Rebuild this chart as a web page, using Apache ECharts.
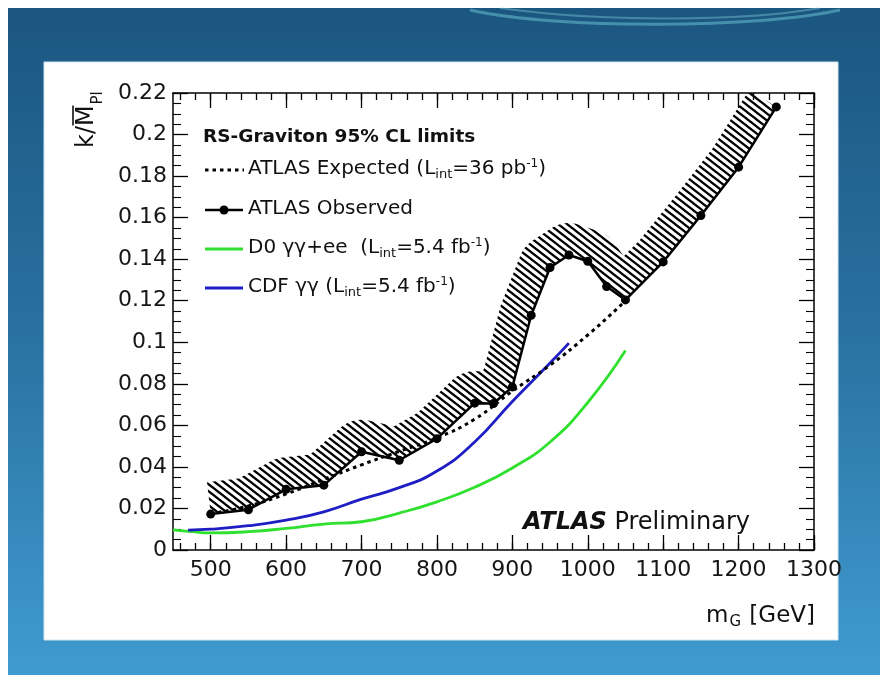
<!DOCTYPE html>
<html>
<head>
<meta charset="utf-8">
<script src="https://cdn.jsdelivr.net/npm/echarts@6/dist/echarts.min.js"></script>
<style>
html,body{margin:0;padding:0;background:#ffffff;}
#chart{width:888px;height:675px;}
</style>
</head>
<body>
<div id="chart"></div>
<script>
// ---------------- data ----------------
const massObs = [500, 550, 600, 650, 700, 750, 800, 850, 875, 900, 925, 950, 975, 1000, 1025, 1050, 1100, 1150, 1200, 1250];
const obsLimit = [0.0173, 0.0194, 0.0292, 0.0312, 0.0473, 0.0432, 0.0536, 0.0707, 0.0705, 0.0785, 0.1130, 0.1360, 0.1420, 0.1390, 0.1268, 0.1204, 0.1387, 0.1610, 0.1843, 0.2133];

const massExp = [500, 550, 600, 650, 700, 750, 800, 850, 900, 950, 1000, 1050];
const expLimit = [0.0175, 0.0212, 0.0270, 0.0340, 0.0410, 0.0475, 0.0540, 0.0630, 0.0765, 0.0890, 0.1035, 0.1200];

const massD0 = [450, 475, 500, 550, 600, 650, 700, 750, 800, 850, 900, 950, 1000, 1050];
const d0Limit = [0.0097, 0.0088, 0.0082, 0.0088, 0.0104, 0.0125, 0.0136, 0.0178, 0.0232, 0.0302, 0.0395, 0.0520, 0.0710, 0.0960];

const massCDF = [470, 500, 550, 600, 650, 700, 750, 800, 850, 900, 950, 975];
const cdfLimit = [0.0096, 0.0100, 0.0117, 0.0144, 0.0184, 0.0245, 0.0300, 0.0380, 0.0520, 0.0715, 0.0900, 0.0996];

const xMajorTicks = [500, 600, 700, 800, 900, 1000, 1100, 1200, 1300];
const xMinorTicks = [];
for (let v = 460; v <= 1300; v += 20) xMinorTicks.push(v);
const yRange = [0, 0.22];
const xRange = [450, 1300];

// ---------------- helpers ----------------
const FONT = 'DejaVu Sans';
const GREEN = '#2fe02f';
const BLUE = '#1e1ec4';

function pairs(xs, ys) { return xs.map((x, i) => [x, ys[i]]); }

// hatch pattern tile
const hatch = (function () {
  const w = 9, h = 7;
  const c = document.createElement('canvas');
  c.width = w; c.height = h;
  const ctx = c.getContext('2d');
  ctx.strokeStyle = '#000';
  ctx.lineWidth = 2.2;
  for (let k = -1; k <= 1; k++) {
    ctx.beginPath();
    ctx.moveTo(w * k - w, -h);
    ctx.lineTo(w * k + 2 * w, 2 * h);
    ctx.stroke();
  }
  return c;
})();

function offsetBand(pts, W) {
  const n = pts.length;
  const segN = [];
  for (let i = 0; i < n - 1; i++) {
    const dx = pts[i + 1][0] - pts[i][0], dy = pts[i + 1][1] - pts[i][1];
    const L = Math.hypot(dx, dy) || 1;
    segN.push([dy / L, -dx / L]);
  }
  const out = [];
  out.push([pts[0][0] + W * segN[0][0], pts[0][1] + W * segN[0][1]]);
  for (let i = 1; i < n - 1; i++) {
    const n1 = segN[i - 1], n2 = segN[i];
    const d1 = [pts[i][0] - pts[i - 1][0], pts[i][1] - pts[i - 1][1]];
    const d2 = [pts[i + 1][0] - pts[i][0], pts[i + 1][1] - pts[i][1]];
    const cross = d1[0] * d2[1] - d1[1] * d2[0];
    if (cross > 0) {
      const a1 = Math.atan2(n1[1], n1[0]);
      let da = Math.atan2(n2[1], n2[0]) - a1;
      while (da > Math.PI) da -= 2 * Math.PI;
      while (da < -Math.PI) da += 2 * Math.PI;
      const steps = Math.max(2, Math.ceil(Math.abs(da) / 0.12));
      for (let s = 0; s <= steps; s++) {
        const a = a1 + da * s / steps;
        out.push([pts[i][0] + W * Math.cos(a), pts[i][1] + W * Math.sin(a)]);
      }
    } else {
      const sx = n1[0] + n2[0], sy = n1[1] + n2[1];
      const sl = Math.hypot(sx, sy) || 1;
      let mag = 2 / sl;
      if (mag > 1.8) mag = 1.8;
      out.push([pts[i][0] + W * mag * sx / sl, pts[i][1] + W * mag * sy / sl]);
    }
  }
  out.push([pts[n - 1][0] + W * segN[n - 2][0], pts[n - 1][1] + W * segN[n - 2][1]]);
  return pts.concat(out.reverse());
}

function baseXAxis(pos, ticks, len, showLine, showLabel) {
  return {
    type: 'value', position: pos, min: xRange[0], max: xRange[1],
    splitLine: { show: false },
    axisLine: { show: showLine, onZero: false, lineStyle: { color: '#000', width: 1.5 } },
    axisTick: { show: true, inside: true, length: len, customValues: ticks, lineStyle: { color: '#000', width: 1.3 } },
    axisLabel: showLabel
      ? { show: true, customValues: xMajorTicks, formatter: function (v) { return String(v); },
          fontFamily: FONT, fontSize: 22, color: '#161616', margin: 9 }
      : { show: false }
  };
}
function baseYAxis(pos, showLabel) {
  return {
    type: 'value', position: pos, min: yRange[0], max: yRange[1], interval: 0.02,
    splitLine: { show: false },
    axisLine: { show: true, onZero: false, lineStyle: { color: '#000', width: 1.5 } },
    axisTick: { show: true, inside: true, length: 15, lineStyle: { color: '#000', width: 1.3 } },
    minorTick: { show: true, splitNumber: 4, length: 8, lineStyle: { color: '#000', width: 1.1 } },
    axisLabel: showLabel
      ? { show: true, fontFamily: FONT, fontSize: 22, color: '#161616', margin: 6 }
      : { show: false }
  };
}

const richSub = { fontFamily: FONT, fontSize: 13, padding: [11, 0, 0, 0], fill: '#111' };
const richSup = { fontFamily: FONT, fontSize: 12, padding: [0, 0, 11, 0], fill: '#111' };
const richN = { fontFamily: FONT, fontSize: 20, fill: '#111' };

function legendText(y, str) {
  return {
    type: 'text', x: 248, y: y, z: 100,
    style: {
      text: str, fontFamily: FONT, fontSize: 20, fill: '#111',
      verticalAlign: 'middle', align: 'left',
      rich: { n: richN, s: richSub, p: richSup }
    }
  };
}

const chart = echarts.init(document.getElementById('chart'), null, { renderer: 'canvas' });

const option = {
  animation: false,
  backgroundColor: '#ffffff',
  grid: { left: 173, right: 74, top: 93, bottom: 125, containLabel: false, outerBoundsMode: 'none' },
  xAxis: [
    baseXAxis('bottom', xMajorTicks, 15, true, true),
    baseXAxis('bottom', xMinorTicks, 7, false, false),
    baseXAxis('top', xMajorTicks, 15, true, false),
    baseXAxis('top', xMinorTicks, 7, false, false)
  ],
  yAxis: [baseYAxis('left', true), baseYAxis('right', false)],
  series: [
    {
      type: 'custom', name: 'band', xAxisIndex: 0, yAxisIndex: 0, z: 1, silent: true,
      data: [[massObs[0], obsLimit[0]]],
      renderItem: function (params, api) {
        const pts = massObs.map((m, i) => api.coord([m, obsLimit[i]]));
        const poly = offsetBand(pts, 32);
        const cs = params.coordSys;
        return {
          type: 'polygon',
          shape: { points: poly },
          style: { fill: { image: hatch, repeat: 'repeat' }, stroke: null },
          clipPath: { type: 'rect', shape: { x: cs.x, y: cs.y, width: cs.width, height: cs.height } }
        };
      }
    },
    {
      type: 'line', name: 'D0', xAxisIndex: 0, yAxisIndex: 0, z: 3,
      data: pairs(massD0, d0Limit), showSymbol: false, smooth: 0.5,
      lineStyle: { color: GREEN, width: 2.8 }
    },
    {
      type: 'line', name: 'CDF', xAxisIndex: 0, yAxisIndex: 0, z: 3,
      data: pairs(massCDF, cdfLimit), showSymbol: false, smooth: 0.5,
      lineStyle: { color: BLUE, width: 2.8 }
    },
    {
      type: 'line', name: 'Expected', xAxisIndex: 0, yAxisIndex: 0, z: 4,
      data: pairs(massExp, expLimit), showSymbol: false, smooth: 0.5,
      lineStyle: { color: '#000', width: 3, type: [3.5, 4] }
    },
    {
      type: 'line', name: 'Observed', xAxisIndex: 0, yAxisIndex: 0, z: 5,
      data: pairs(massObs, obsLimit), symbol: 'circle', symbolSize: 9, showSymbol: true,
      itemStyle: { color: '#000' },
      lineStyle: { color: '#000', width: 2.5 }
    }
  ],
  graphic: { elements: [
    // slide background
    { type: 'rect', z: -100, shape: { x: 8, y: 8, width: 872, height: 667 },
      style: { fill: new echarts.graphic.LinearGradient(0, 0, 0, 1, [
        { offset: 0, color: '#1b5680' }, { offset: 0.5, color: '#2a72a2' }, { offset: 1, color: '#409bd0' }]) } },
    { type: 'bezierCurve', z: -99, shape: { x1: 470, y1: 10, cpx1: 560, cpy1: 30, cpx2: 760, cpy2: 28, x2: 840, y2: 10 },
      style: { stroke: 'rgba(120,215,225,0.45)', lineWidth: 3, fill: null } },
    { type: 'bezierCurve', z: -99, shape: { x1: 500, y1: 8, cpx1: 600, cpy1: 22, cpx2: 740, cpy2: 22, x2: 820, y2: 8 },
      style: { stroke: 'rgba(150,230,235,0.35)', lineWidth: 2, fill: null } },
    { type: 'rect', z: -98, shape: { x: 44, y: 62, width: 794, height: 578 },
      style: { fill: '#ffffff', stroke: '#cfe6f2', lineWidth: 1 } },

    // y axis title
    { type: 'group', x: 99, y: 148, rotation: Math.PI / 2, z: 100, children: [
      { type: 'text', x: 0, y: 0, style: { text: 'k/M', fontFamily: FONT, fontSize: 24, fill: '#111', align: 'left', verticalAlign: 'bottom' } },
      { type: 'line', shape: { x1: 22.5, y1: -26, x2: 42.5, y2: -26 }, style: { stroke: '#111', lineWidth: 1.6 } },
      { type: 'text', x: 43.5, y: 7, style: { text: 'Pl', fontFamily: FONT, fontSize: 15, fill: '#111', align: 'left', verticalAlign: 'bottom' } }
    ] },

    // x axis title
    { type: 'text', x: 815, y: 616, z: 100, style: {
      text: '{n|m}{s|G}{n| [GeV]}', align: 'right', verticalAlign: 'middle', fontFamily: FONT, fontSize: 23, fill: '#111',
      rich: { n: { fontFamily: FONT, fontSize: 23, fill: '#111' }, s: { fontFamily: FONT, fontSize: 15, fill: '#111', padding: [13, 1, 0, 1] } } } },

    // ATLAS Preliminary
    { type: 'text', x: 523, y: 523, z: 100, style: {
      text: '{b|ATLAS} {n|Preliminary}', align: 'left', verticalAlign: 'middle', fontFamily: FONT, fontSize: 24, fill: '#111',
      rich: { b: { fontFamily: FONT, fontSize: 24, fontWeight: 'bold', fontStyle: 'italic', fill: '#111' },
              n: { fontFamily: FONT, fontSize: 24, fill: '#111' } } } },

    // legend
    { type: 'text', x: 203, y: 137, z: 100, style: { text: 'RS-Graviton 95% CL limits', fontFamily: FONT, fontSize: 18.5, fontWeight: 'bold', fill: '#111', verticalAlign: 'middle', align: 'left' } },
    { type: 'line', z: 100, shape: { x1: 205, y1: 170, x2: 244, y2: 170 }, style: { stroke: '#000', lineWidth: 3, lineDash: [3.5, 4] } },
    legendText(169, '{n|ATLAS Expected (L}{s|int}{n|=36 pb}{p|-1}{n|)}'),
    { type: 'line', z: 100, shape: { x1: 205, y1: 210, x2: 243, y2: 210 }, style: { stroke: '#000', lineWidth: 2.5 } },
    { type: 'circle', z: 101, shape: { cx: 224, cy: 210, r: 4.5 }, style: { fill: '#000' } },
    legendText(209, '{n|ATLAS Observed}'),
    { type: 'line', z: 100, shape: { x1: 205, y1: 249, x2: 243, y2: 249 }, style: { stroke: GREEN, lineWidth: 3 } },
    legendText(248, '{n|D0 γγ+ee  (L}{s|int}{n|=5.4 fb}{p|-1}{n|)}'),
    { type: 'line', z: 100, shape: { x1: 205, y1: 288, x2: 243, y2: 288 }, style: { stroke: BLUE, lineWidth: 3 } },
    legendText(287, '{n|CDF γγ (L}{s|int}{n|=5.4 fb}{p|-1}{n|)}')
  ] }
};
chart.setOption(option);
</script>
</body>
</html>
